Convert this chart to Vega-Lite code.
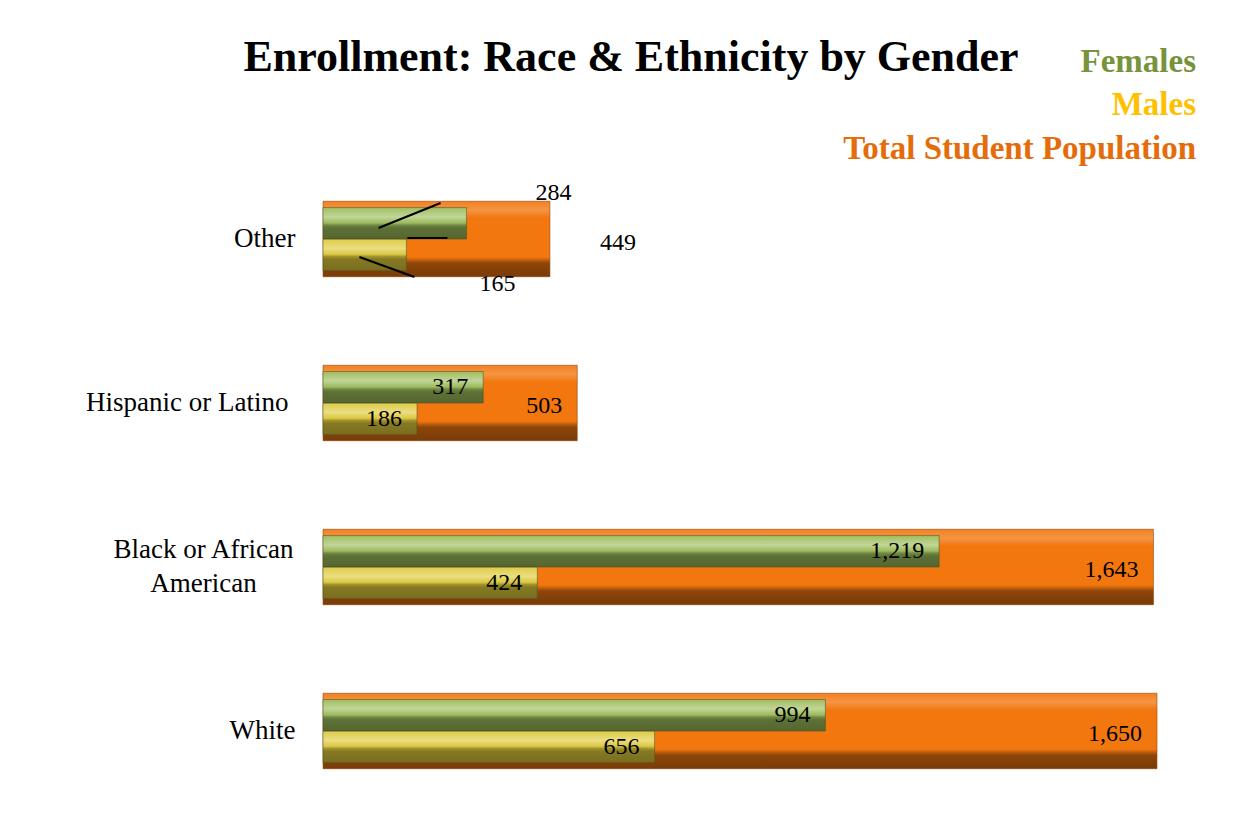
{
  "$schema": "https://vega.github.io/schema/vega-lite/v6.json",
  "width": 834,
  "height": 656,
  "autosize": {"type": "none"},
  "padding": {"left": 323, "top": 157, "right": 93, "bottom": 22},
  "background": "white",
  "config": {"view": {"stroke": null}, "font": "Liberation Serif"},
  "title": {
    "text": "Enrollment: Race & Ethnicity by Gender",
    "font": "Liberation Serif",
    "fontSize": 44,
    "fontWeight": "bold",
    "color": "black",
    "anchor": "middle",
    "dx": -109,
    "offset": 80,
    "dy": 115
  },
  "data": {
    "values": [
      {"race": "Other", "gender": "Females", "value": 284},
      {"race": "Other", "gender": "Males", "value": 165},
      {"race": "Other", "gender": "Total Student Population", "value": 449},
      {"race": "Hispanic or Latino", "gender": "Females", "value": 317},
      {"race": "Hispanic or Latino", "gender": "Males", "value": 186},
      {"race": "Hispanic or Latino", "gender": "Total Student Population", "value": 503},
      {"race": "Black or African American", "gender": "Females", "value": 1219},
      {"race": "Black or African American", "gender": "Males", "value": 424},
      {"race": "Black or African American", "gender": "Total Student Population", "value": 1643},
      {"race": "White", "gender": "Females", "value": 994},
      {"race": "White", "gender": "Males", "value": 656},
      {"race": "White", "gender": "Total Student Population", "value": 1650}
    ]
  },
  "encoding": {
    "y": {
      "field": "race",
      "type": "nominal",
      "sort": ["Other", "Hispanic or Latino", "Black or African American", "White"],
      "scale": {"paddingInner": 0.54, "paddingOuter": 0.27},
      "axis": {
        "title": null,
        "domain": false,
        "ticks": false,
        "labelFont": "Liberation Serif",
        "labelFontSize": 27,
        "labelColor": "black",
        "labelLimit": 400,
        "labelLineHeight": 34,
        "labelExpr": "datum.value == 'Black or African American' ? ['Black or African', 'American'] : datum.value",
        "labelAlign": {"condition": {"test": "datum.value == 'Black or African American'", "value": "center"}, "value": "right"},
        "labelPadding": {"condition": [
          {"test": "datum.value == 'Black or African American'", "value": 120},
          {"test": "datum.value == 'Hispanic or Latino'", "value": 35}
        ], "value": 28},
        "labelOffset": {"condition": {"test": "datum.value == 'Black or African American'", "value": -17}, "value": 0}
      }
    },
    "x": {
      "field": "value",
      "type": "quantitative",
      "scale": {"domain": [0, 1650], "nice": false, "zero": true},
      "axis": null
    }
  },
  "layer": [
    {
      "transform": [{"filter": "datum.gender == 'Total Student Population'"}],
      "mark": {"type": "bar", "cornerRadius": 0},
      "encoding": {
        "color": {
          "field": "gender",
          "type": "nominal",
          "scale": {
            "domain": ["Females", "Males", "Total Student Population"],
            "range": ["#9BBB59", "#DDC93A", "#F2770F"]
          },
          "legend": {
            "title": null,
            "orient": "none",
            "legendX": 840,
            "legendY": -112,
            "symbolSize": 0,
            "symbolOpacity": 0,
            "symbolStrokeWidth": 0,
            "labelFont": "Liberation Serif",
            "labelFontSize": 33,
            "labelFontWeight": "bold",
            "labelAlign": "right",
            "labelOffset": 0,
            "labelLimit": 500,
            "rowPadding": 9.5,
            "encode": {
              "labels": {
                "update": {
                  "fill": {"signal": "datum.value === 'Females' ? '#77933C' : datum.value === 'Males' ? '#FFC000' : '#E46C0A'"}
                }
              }
            }
          }
        }
      }
    },
    {
      "transform": [{"filter": "datum.gender == 'Total Student Population'"}],
      "mark": {
        "type": "bar",
        "fill": {
          "gradient": "linear", "x1": 0, "y1": 0, "x2": 0, "y2": 1,
          "stops": [
            {"offset": 0, "color": "rgba(255,255,255,0.08)"},
            {"offset": 0.12, "color": "rgba(255,255,255,0.22)"},
            {"offset": 0.22, "color": "rgba(255,255,255,0)"},
            {"offset": 0.74, "color": "rgba(0,0,0,0)"},
            {"offset": 0.82, "color": "rgba(0,0,0,0.42)"},
            {"offset": 1, "color": "rgba(0,0,0,0.5)"}
          ]
        },
        "stroke": "#9a4a10",
        "strokeWidth": 1,
        "strokeOpacity": 0.6
      }
    },
    {
      "transform": [{"filter": "datum.gender != 'Total Student Population'"}],
      "mark": {"type": "bar"},
      "encoding": {
        "yOffset": {
          "field": "gender",
          "type": "nominal",
          "scale": {"domain": ["Females", "Males"], "paddingInner": 0, "paddingOuter": 0.2}
        },
        "color": {"field": "gender", "type": "nominal"}
      }
    },
    {
      "transform": [{"filter": "datum.gender != 'Total Student Population'"}],
      "mark": {
        "type": "bar",
        "fill": {
          "gradient": "linear", "x1": 0, "y1": 0, "x2": 0, "y2": 1,
          "stops": [
            {"offset": 0, "color": "rgba(255,255,255,0.05)"},
            {"offset": 0.3, "color": "rgba(255,255,255,0.38)"},
            {"offset": 0.45, "color": "rgba(255,255,255,0.08)"},
            {"offset": 0.55, "color": "rgba(0,0,0,0.25)"},
            {"offset": 0.65, "color": "rgba(0,0,0,0.4)"},
            {"offset": 1, "color": "rgba(0,0,0,0.45)"}
          ]
        },
        "stroke": "#4a4a20",
        "strokeWidth": 1,
        "strokeOpacity": 0.5
      },
      "encoding": {
        "yOffset": {"field": "gender", "type": "nominal"}
      }
    },
    {
      "transform": [{"filter": "datum.gender == 'Total Student Population' && datum.race != 'Other'"}],
      "mark": {"type": "text", "align": "right", "baseline": "middle", "dx": -15, "dy": 3, "fontSize": 24, "font": "Liberation Serif", "color": "black"},
      "encoding": {"text": {"field": "value", "type": "quantitative", "format": ","}}
    },
    {
      "transform": [{"filter": "datum.gender != 'Total Student Population' && datum.race != 'Other'"}],
      "mark": {"type": "text", "align": "right", "baseline": "middle", "dx": -15, "dy": 0, "fontSize": 24, "font": "Liberation Serif", "color": "black"},
      "encoding": {
        "yOffset": {"field": "gender", "type": "nominal"},
        "text": {"field": "value", "type": "quantitative", "format": ","}
      }
    },
    {
      "transform": [{"filter": "datum.gender == 'Total Student Population' && datum.race == 'Other'"}],
      "mark": {"type": "text", "align": "left", "baseline": "middle", "dx": 50, "dy": 4, "fontSize": 24, "font": "Liberation Serif", "color": "black"},
      "encoding": {"text": {"field": "value", "type": "quantitative", "format": ","}}
    },
    {
      "transform": [{"filter": "datum.gender == 'Females' && datum.race == 'Other'"}],
      "mark": {"type": "text", "align": "center", "baseline": "middle", "dx": 87, "dy": -46, "fontSize": 24, "font": "Liberation Serif", "color": "black"},
      "encoding": {"text": {"field": "value", "type": "quantitative", "format": ","}}
    },
    {
      "transform": [{"filter": "datum.gender == 'Males' && datum.race == 'Other'"}],
      "mark": {"type": "text", "align": "center", "baseline": "middle", "dx": 91, "dy": 45, "fontSize": 24, "font": "Liberation Serif", "color": "black"},
      "encoding": {"text": {"field": "value", "type": "quantitative", "format": ","}}
    },
    {
      "transform": [{"filter": "datum.gender == 'Females' && datum.race == 'Other'"}],
      "mark": {"type": "rule", "color": "black", "strokeWidth": 2, "xOffset": -88, "x2Offset": -26, "yOffset": -11, "y2Offset": -36},
      "encoding": {"x2": {"field": "value"}, "y2": {"field": "race"}}
    },
    {
      "transform": [{"filter": "datum.gender == 'Males' && datum.race == 'Other'"}],
      "mark": {"type": "rule", "color": "black", "strokeWidth": 2, "xOffset": 1, "x2Offset": 41, "yOffset": -1, "y2Offset": -1},
      "encoding": {"x2": {"field": "value"}, "y2": {"field": "race"}}
    },
    {
      "transform": [{"filter": "datum.gender == 'Males' && datum.race == 'Other'"}],
      "mark": {"type": "rule", "color": "black", "strokeWidth": 2, "xOffset": -47, "x2Offset": 8, "yOffset": 18, "y2Offset": 38},
      "encoding": {"x2": {"field": "value"}, "y2": {"field": "race"}}
    }
  ]
}
